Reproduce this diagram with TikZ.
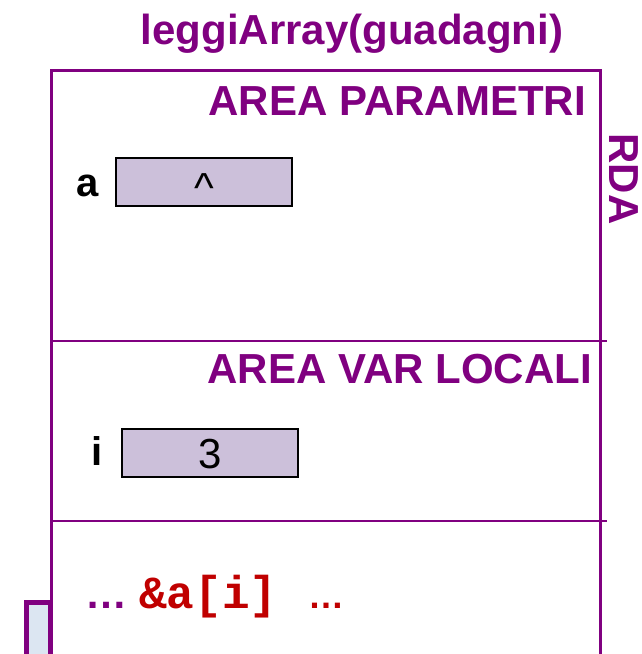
\documentclass[tikz,border=0pt]{standalone}
\usepackage{fontspec}
\setmainfont{Liberation Sans}
\setmonofont{Liberation Mono}
\definecolor{rdapurple}{rgb}{0.5,0,0.5}
\definecolor{cellfill}{RGB}{204,192,218}
\definecolor{codered}{RGB}{192,0,0}
\definecolor{stackfill}{RGB}{220,230,242}

\begin{document}
\begin{tikzpicture}[x=1pt, y=-1pt,
    heading/.style={text=rdapurple, inner sep=0pt, font=\fontsize{42}{50}\selectfont\bfseries},
    cell/.style={draw=black, line width=1.5pt, fill=cellfill, inner sep=0pt, minimum width=176pt, minimum height=48pt,
                 text height=30pt, text depth=0pt, font=\fontsize{42}{50}\selectfont},
    varname/.style={anchor=base west, inner sep=0pt, font=\fontsize{40}{48}\selectfont\bfseries},
    frameline/.style={rdapurple, line width=3pt},
    divider/.style={rdapurple, line width=2pt}]
\useasboundingbox (0,0) rectangle (642,654);

\draw[frameline] (51,670) -- (51,70) -- (600,70) -- (600,670);
\draw[divider] (51,341) -- (607,341);
\draw[divider] (51,521) -- (607,521);

\node[heading, anchor=base] (title) at (352,44) {leggiArray(guadagni)};
\node[heading, anchor=base east] (parametri) at (586,115) {AREA PARAMETRI};
\node[heading, anchor=base east] (locali) at (592,383) {AREA VAR LOCALI};
\node[heading, anchor=base, rotate=-90] (rda) at (609,179) {RDA};

\node[cell] (cella) at (204,182) {\raisebox{-5pt}{\textasciicircum}};
\node[varname] (labela) at (76,196) {a};
\node[cell] (celli) at (210,453) {3};
\node[varname] (labeli) at (91,465) {i};

\node[heading, anchor=base west] (dotsl) at (85,608) {…};
\node[anchor=base west, inner sep=0pt, text=codered, font=\fontsize{46}{52}\ttfamily\bfseries] (expr) at (139,608) {\&a[i]};
\node[anchor=base west, inner sep=0pt, text=codered, font=\fontsize{36}{44}\selectfont\bfseries] (dotsr) at (308,608) {…};

\draw[rdapurple, line width=5pt, fill=stackfill] (26,670) -- (26,602) -- (50,602) -- (50,670);
\end{tikzpicture}
\end{document}
